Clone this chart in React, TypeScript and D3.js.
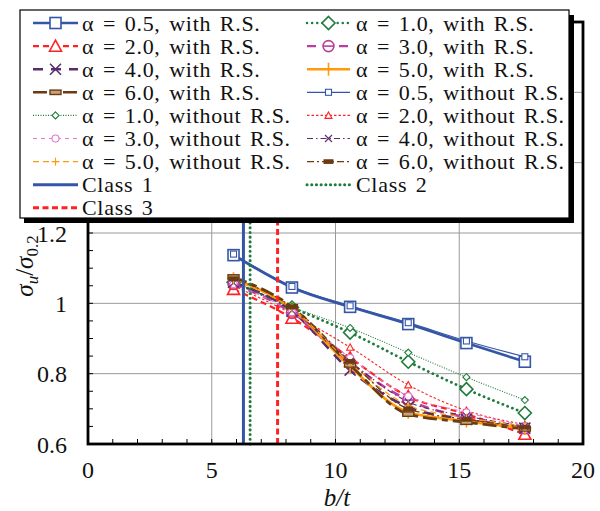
import React from "react";
import * as d3 from "d3";

// b/t values of the tested sections
const bt = [5.88, 8.24, 10.59, 12.94, 15.29, 17.65];

// sigma_u / sigma_0.2 with residual stresses
const with05 = [1.137, 1.045, 0.99, 0.941, 0.887, 0.834];
const with10 = [1.06, 0.988, 0.917, 0.834, 0.756, 0.688];
const with20 = [1.04, 0.958, 0.845, 0.735, 0.685, 0.628];
const with30 = [1.055, 0.973, 0.83, 0.725, 0.675, 0.645];
const with40 = [1.06, 0.978, 0.81, 0.705, 0.67, 0.645];
const with50 = [1.07, 0.985, 0.82, 0.69, 0.665, 0.645];
const with60 = [1.075, 0.99, 0.825, 0.685, 0.662, 0.643];

// sigma_u / sigma_0.2 without residual stresses
const wo05 = [1.14, 1.048, 0.993, 0.945, 0.893, 0.848];
const wo10 = [1.062, 0.99, 0.93, 0.86, 0.79, 0.725];
const wo20 = [1.05, 0.97, 0.875, 0.768, 0.695, 0.655];
const wo30 = [1.055, 0.975, 0.845, 0.736, 0.69, 0.65];
const wo40 = [1.058, 0.98, 0.835, 0.72, 0.68, 0.65];
const wo50 = [1.065, 0.985, 0.83, 0.71, 0.675, 0.65];
const wo60 = [1.07, 0.99, 0.835, 0.7, 0.67, 0.648];

// class limits (b/t)
const classNames = ["Class 1", "Class 2", "Class 3"];
const classLimits = [6.28, 6.55, 7.66];

const xTicks = [0, 5, 10, 15, 20];
const yTicks = [0.6, 0.8, 1.0, 1.2, 1.4, 1.6, 1.8];

const BLUE = "#3556a6";
const GREEN = "#1e7b3a";
const RED = "#ff2222";
const MAG = "#b8409c";
const PINK = "#e27ad2";
const PURPLE = "#5a2c6e";
const ORANGE = "#ff9a0a";
const BROWN = "#6b3b12";

type Series = {
  label: string;
  values: number[];
  color: string;
  width: number;
  dash: string;
  cap: string;
  marker: string;
  size: number;
};

const series: Series[] = [
  { label: "α = 0.5, with R.S.", values: with05, color: BLUE, width: 2.6, dash: "", cap: "butt", marker: "square", size: 11 },
  { label: "α = 1.0, with R.S.", values: with10, color: GREEN, width: 2.8, dash: "0.1 5", cap: "round", marker: "diamond", size: 13 },
  { label: "α = 2.0, with R.S.", values: with20, color: RED, width: 2.2, dash: "6 4", cap: "butt", marker: "triangle", size: 12 },
  { label: "α = 3.0, with R.S.", values: with30, color: MAG, width: 2.6, dash: "9 7", cap: "butt", marker: "circlebar", size: 11 },
  { label: "α = 4.0, with R.S.", values: with40, color: PURPLE, width: 2.6, dash: "10 8", cap: "butt", marker: "x", size: 11 },
  { label: "α = 5.0, with R.S.", values: with50, color: ORANGE, width: 2.6, dash: "", cap: "butt", marker: "plus", size: 13 },
  { label: "α = 6.0, with R.S.", values: with60, color: BROWN, width: 2.8, dash: "14 5 6 5", cap: "butt", marker: "rect", size: 11 },
  { label: "α = 0.5, without R.S.", values: wo05, color: BLUE, width: 1.2, dash: "", cap: "butt", marker: "square", size: 6 },
  { label: "α = 1.0, without R.S.", values: wo10, color: GREEN, width: 1.1, dash: "1 1.5", cap: "butt", marker: "diamond", size: 7 },
  { label: "α = 2.0, without R.S.", values: wo20, color: RED, width: 1.1, dash: "2.5 2", cap: "butt", marker: "triangle", size: 7 },
  { label: "α = 3.0, without R.S.", values: wo30, color: PINK, width: 1.1, dash: "4 4", cap: "butt", marker: "circle", size: 7 },
  { label: "α = 4.0, without R.S.", values: wo40, color: PURPLE, width: 1.1, dash: "6 3 1.5 3", cap: "butt", marker: "x", size: 7 },
  { label: "α = 5.0, without R.S.", values: wo50, color: ORANGE, width: 1.2, dash: "6 4", cap: "butt", marker: "plus", size: 8 },
  { label: "α = 6.0, without R.S.", values: wo60, color: BROWN, width: 1.3, dash: "7 3 2 3", cap: "butt", marker: "rectfill", size: 9 },
];

const classStyles = [
  { color: BLUE, dash: "", cap: "butt", width: 3 },
  { color: GREEN, dash: "0.1 4.6", cap: "round", width: 3 },
  { color: RED, dash: "6 3.5", cap: "butt", width: 3 },
];

const FONT = "Liberation Serif";
const tStyle = { fontFamily: FONT };

function Marker({ type, cx, cy, s, color }: { type: string; cx: number; cy: number; s: number; color: string }) {
  const h = s / 2;
  const sw = s > 9 ? 1.6 : 1.1;
  switch (type) {
    case "square":
      return <rect x={cx - h} y={cy - h} width={s} height={s} fill="white" stroke={color} strokeWidth={sw} />;
    case "diamond":
      return <path d={`M${cx},${cy - h}L${cx + h},${cy}L${cx},${cy + h}L${cx - h},${cy}Z`} fill="white" stroke={color} strokeWidth={sw} />;
    case "triangle":
      return <path d={`M${cx},${cy - h}L${cx + h},${cy + h * 0.85}L${cx - h},${cy + h * 0.85}Z`} fill="white" stroke={color} strokeWidth={sw} />;
    case "circle":
      return <circle cx={cx} cy={cy} r={h} fill="white" stroke={color} strokeWidth={sw} />;
    case "circlebar":
      return (
        <g>
          <circle cx={cx} cy={cy} r={h} fill="white" stroke={color} strokeWidth={sw} />
          <line x1={cx - h} x2={cx + h} y1={cy} y2={cy} stroke={color} strokeWidth={sw} />
        </g>
      );
    case "x":
      return (
        <g stroke={color} strokeWidth={sw}>
          <line x1={cx - h} x2={cx + h} y1={cy - h} y2={cy + h} />
          <line x1={cx - h} x2={cx + h} y1={cy + h} y2={cy - h} />
        </g>
      );
    case "plus":
      return (
        <g stroke={color} strokeWidth={sw}>
          <line x1={cx - h} x2={cx + h} y1={cy} y2={cy} />
          <line x1={cx} x2={cx} y1={cy - h} y2={cy + h} />
        </g>
      );
    case "rect":
      return <rect x={cx - h} y={cy - s * 0.2} width={s} height={s * 0.4} fill="#c9a27a" stroke={color} strokeWidth={1.4} />;
    case "rectfill":
      return <rect x={cx - h} y={cy - s * 0.2} width={s} height={s * 0.4} fill={color} stroke={color} strokeWidth={1} />;
    default:
      return null;
  }
}

export default function App() {
  const W = 600;
  const H = 511;
  const left = 88, right = 583, top = 22, bottom = 444;
  const x = d3.scaleLinear().domain([0, 20]).range([left, right]);
  const y = d3.scaleLinear().domain([0.6, 1.8]).range([bottom, top]);
  const line = d3
    .line<number>()
    .x((_, i) => x(bt[i]))
    .y((d) => y(d))
    .curve(d3.curveMonotoneX);

  const xMinor = d3.range(0, 20.01, 1);
  const yMinor = d3.range(0.6, 1.801, 0.05);

  // legend layout
  const lgX = 20, lgY = 10, lgW = 549, lgH = 208;
  const colX = [33, 307];
  const sampleW = [45, 43];
  const rowY0 = 23, rowDy = 23.1;
  const legendItems: { label: string; kind: "s" | "c"; idx: number }[] = [
    ...series.map((s, i) => ({ label: s.label, kind: "s" as const, idx: i })),
    ...classNames.map((c, i) => ({ label: c, kind: "c" as const, idx: i })),
  ];

  return (
    <svg width={W} height={H} style={{ display: "block", position: "absolute", left: 0, top: 0 }}>
      <rect width={W} height={H} fill="white" />
      {/* grid */}
      {xTicks.map((t) => (
        <line key={"gx" + t} x1={x(t)} x2={x(t)} y1={top} y2={bottom} stroke="#9a9a9a" strokeWidth={1} />
      ))}
      {yTicks.map((t) => (
        <line key={"gy" + t} x1={left} x2={right} y1={y(t)} y2={y(t)} stroke="#9a9a9a" strokeWidth={1} />
      ))}
      {/* minor ticks */}
      {xMinor.map((t) => (
        <line key={"mx" + t} x1={x(t)} x2={x(t)} y1={bottom} y2={bottom - 5} stroke="#000" strokeWidth={1} />
      ))}
      {yMinor.map((t) => (
        <line key={"my" + t} x1={left} x2={left + 5} y1={y(t)} y2={y(t)} stroke="#000" strokeWidth={1} />
      ))}
      {/* series lines */}
      {series.map((s, i) => (
        <path
          key={"l" + i}
          d={line(s.values) || ""}
          fill="none"
          stroke={s.color}
          strokeWidth={s.width}
          strokeDasharray={s.dash || undefined}
          strokeLinecap={s.cap as any}
        />
      ))}
      {/* markers */}
      {series.map((s, i) => (
        <g key={"m" + i}>
          {s.values.map((v, j) => (
            <Marker key={j} type={s.marker} cx={x(bt[j])} cy={y(v)} s={s.size} color={s.color} />
          ))}
        </g>
      ))}
      {/* class limits */}
      {classLimits.map((c, i) => (
        <line
          key={"c" + i}
          x1={x(c)}
          x2={x(c)}
          y1={bottom}
          y2={top}
          stroke={classStyles[i].color}
          strokeWidth={classStyles[i].width}
          strokeDasharray={classStyles[i].dash || undefined}
          strokeLinecap={classStyles[i].cap as any}
        />
      ))}
      {/* frame */}
      <rect x={left} y={top} width={right - left} height={bottom - top} fill="none" stroke="#000" strokeWidth={2.8} />
      {/* tick labels */}
      {xTicks.map((t) => (
        <text key={"tx" + t} x={x(t)} y={478} fontSize={24} textAnchor="middle" fill="#111" style={tStyle}>
          {t}
        </text>
      ))}
      {yTicks.map((t) => (
        <text key={"ty" + t} x={67} y={y(t) + 8.5} fontSize={24} textAnchor="end" fill="#111" style={tStyle}>
          {String(+t.toFixed(1))}
        </text>
      ))}
      {/* axis titles */}
      <text x={337} y={506} fontSize={25} textAnchor="middle" fontStyle="italic" fill="#111" style={tStyle}>
        b/t
      </text>
      <text transform="translate(33,266) rotate(-90)" fontSize={25} textAnchor="middle" fill="#111" style={tStyle}>
        <tspan fontStyle="italic">σ</tspan>
        <tspan fontStyle="italic" fontSize={17} dy={5}>u</tspan>
        <tspan dy={-5}>/</tspan>
        <tspan fontStyle="italic">σ</tspan>
        <tspan fontSize={17} dy={5}>0.2</tspan>
      </text>
      {/* legend */}
      <rect x={lgX + 4} y={lgY + 5} width={lgW + 1} height={lgH} fill="#000" />
      <rect x={lgX} y={lgY} width={lgW} height={lgH} fill="white" stroke="#000" strokeWidth={1.2} />
      {legendItems.map((it, k) => {
        const col = k % 2;
        const row = Math.floor(k / 2);
        const x0 = colX[col];
        const sw = sampleW[col];
        const cy = rowY0 + row * rowDy;
        const st = it.kind === "s" ? series[it.idx] : null;
        const cs = it.kind === "c" ? classStyles[it.idx] : null;
        const color = st ? st.color : cs!.color;
        return (
          <g key={"lg" + k}>
            <line
              x1={x0}
              x2={x0 + sw}
              y1={cy}
              y2={cy}
              stroke={color}
              strokeWidth={st ? Math.min(st.width, 2.4) : cs!.width}
              strokeDasharray={(st ? st.dash : cs!.dash) || undefined}
              strokeLinecap={(st ? st.cap : cs!.cap) as any}
            />
            {st && <Marker type={st.marker} cx={x0 + sw / 2} cy={cy} s={st.size} color={st.color} />}
            <text
              x={x0 + sw + (col === 0 ? 4 : 6)}
              y={cy + 7.5}
              fontSize={22}
              fill="#111"
              style={{ fontFamily: FONT, letterSpacing: "0.7px", wordSpacing: "2.5px" }}
            >
              {it.label}
            </text>
          </g>
        );
      })}
    </svg>
  );
}
